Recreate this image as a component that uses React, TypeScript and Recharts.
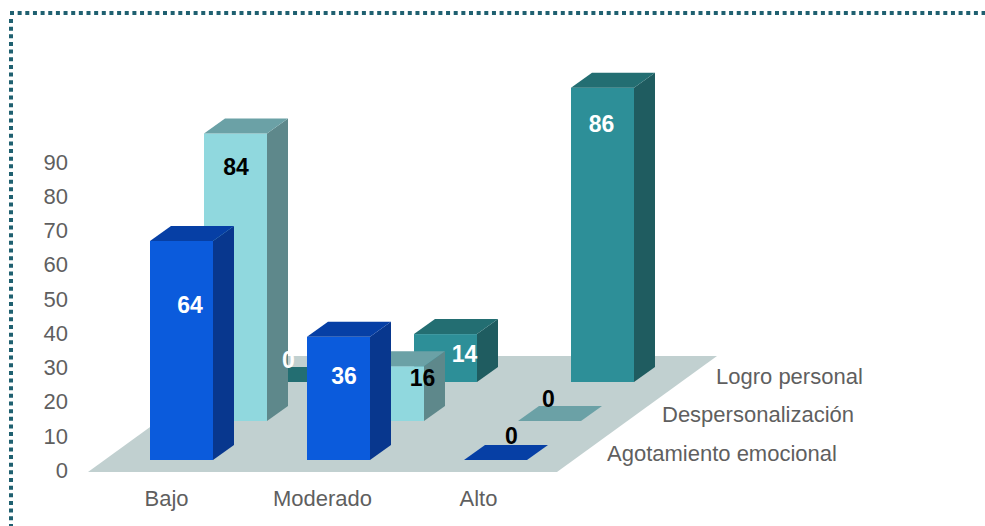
import React from "react";
import { BarChart, Bar, XAxis, YAxis, LabelList, Customized } from "recharts";

const categories = ["Bajo", "Moderado", "Alto"];
const agotamiento = [64, 36, 0];
const despersonalizacion = [84, 16, 0];
const logro = [0, 14, 86];
const yTicks = [0, 10, 20, 30, 40, 50, 60, 70, 80, 90];
const depthLabels = ["Logro personal", "Despersonalización", "Agotamiento emocional"];

const data = categories.map((c, i) => ({
  c,
  agotamiento: agotamiento[i],
  despersonalizacion: despersonalizacion[i],
  logro: logro[i],
}));

const FONT = "'Liberation Sans', Arial, sans-serif";
const TEXT = "#5f5f5f";
const DX = 21;
const DY = 15;

const STYLES = {
  agotamiento: { lift: 10, shift: -1, front: "#0b5bdc", top: "#063fa5", side: "#08378e", label: "#ffffff", zeroLabel: "#000000" },
  despersonalizacion: { lift: 49, shift: 0, front: "#90d8de", top: "#6ba1a6", side: "#5e888b", label: "#000000", zeroLabel: "#000000" },
  logro: { lift: 88, shift: 0, front: "#2d8f98", top: "#236e72", side: "#1f5c60", label: "#ffffff", zeroLabel: "#ffffff" },
};

// label nudges relative to the front face's top-centre, per category
const LABEL_NUDGE = {
  agotamiento: [[7.5, 64], [4.5, 39], [15, -24]],
  despersonalizacion: [[0.5, 33], [30, 12], [-1, -22]],
  logro: [[0, -22], [19, 20], [-1, 36]],
};

function box(key: keyof typeof STYLES) {
  const s = STYLES[key];
  return (props: any) => {
    const { y, width, height } = props;
    const x = props.x + s.shift;
    const yTop = y - s.lift;
    const yBot = yTop + height;
    const r = x + width;
    return (
      <g>
        {height > 0 && <rect x={x} y={yTop} width={width} height={height} fill={s.front} />}
        {height > 0 && (
          <polygon
            points={`${r},${yTop} ${r + DX},${yTop - DY} ${r + DX},${yBot - DY} ${r},${yBot}`}
            fill={s.side}
          />
        )}
        <polygon
          points={`${x},${yTop} ${x + DX},${yTop - DY} ${r + DX},${yTop - DY} ${r},${yTop}`}
          fill={s.top}
        />
      </g>
    );
  };
}

function valueLabel(key: keyof typeof STYLES) {
  const s = STYLES[key];
  return (props: any) => {
    const { x, y, width, value, index } = props;
    const [nx, ny] = LABEL_NUDGE[key][index];
    return (
      <text
        x={x + width / 2 + nx}
        y={y - s.lift + ny}
        textAnchor="middle"
        dominantBaseline="central"
        fontFamily={FONT}
        fontWeight="bold"
        fontSize={23}
        fill={value === 0 ? s.zeroLabel : s.label}
      >
        {value}
      </text>
    );
  };
}

const Floor = () => (
  <polygon points="88,472 557,472 717,356 248,356" fill="#c1d0d0" />
);

const DepthLabels = () => (
  <g>
    {depthLabels.map((t, i) => (
      <text
        key={t}
        x={[716, 662, 607][i]}
        y={[376, 414, 453][i]}
        dominantBaseline="central"
        fontFamily={FONT}
        fontSize={22}
        fill={TEXT}
      >
        {t}
      </text>
    ))}
  </g>
);

const XTick = (props: any) => (
  <text
    x={props.x - 69 - props.index}
    y={498}
    textAnchor="middle"
    dominantBaseline="central"
    fontFamily={FONT}
    fontSize={22}
    fill={TEXT}
  >
    {props.payload.value}
  </text>
);

export default function App() {
  return (
    <div style={{ position: "absolute", left: 0, top: 0, width: 985, height: 526, overflow: "hidden", background: "#fff" }}>
      <svg width={985} height={526} style={{ position: "absolute", left: 0, top: 0 }}>
        <line x1={10} y1={13} x2={985} y2={13} stroke="#1f6070" strokeWidth={4} strokeDasharray="4 3.65" />
        <line x1={11} y1={19} x2={11} y2={526} stroke="#1f6070" strokeWidth={4} strokeDasharray="4 3.65" />
      </svg>
      <BarChart
        width={985}
        height={526}
        data={data}
        margin={{ top: 162, right: 357, bottom: 0, left: 0 }}
        barSize={63}
        barGap={-116}
        style={{ position: "absolute", left: 0, top: 0 }}
      >
        <Customized component={Floor} />
        <XAxis dataKey="c" axisLine={false} tickLine={false} height={56} tick={<XTick />} interval={0} />
        <YAxis
          width={157}
          domain={[0, 90]}
          ticks={yTicks}
          interval={0}
          axisLine={false}
          tickLine={false}
          tickSize={0}
          tickMargin={89}
          tick={{ fontFamily: FONT, fontSize: 22, fill: TEXT }}
        />
        <Bar dataKey="logro" isAnimationActive={false} shape={box("logro")}>
          <LabelList dataKey="logro" content={valueLabel("logro")} />
        </Bar>
        <Bar dataKey="despersonalizacion" isAnimationActive={false} shape={box("despersonalizacion")}>
          <LabelList dataKey="despersonalizacion" content={valueLabel("despersonalizacion")} />
        </Bar>
        <Bar dataKey="agotamiento" isAnimationActive={false} shape={box("agotamiento")}>
          <LabelList dataKey="agotamiento" content={valueLabel("agotamiento")} />
        </Bar>
        <Customized component={DepthLabels} />
      </BarChart>
    </div>
  );
}
